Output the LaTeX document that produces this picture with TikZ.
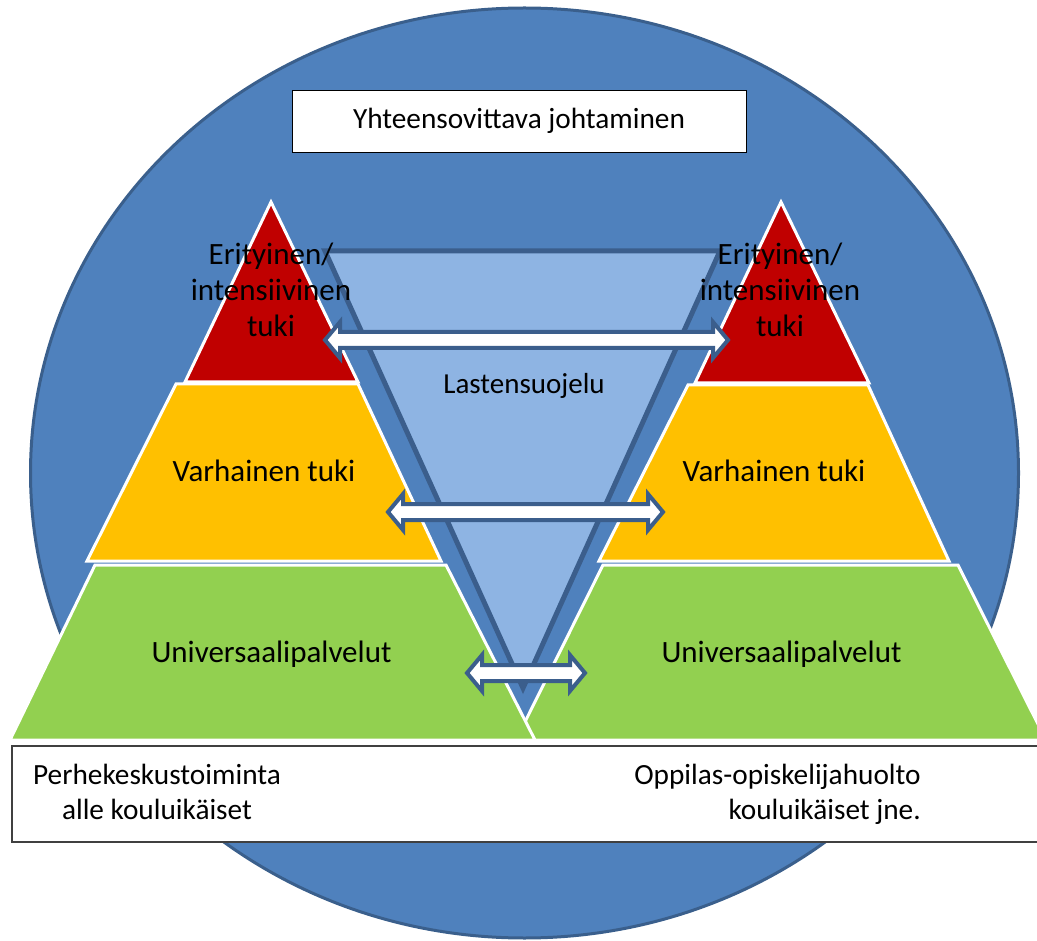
\documentclass[tikz,border=0pt]{standalone}
\usepackage{fontspec}
\setmainfont{Carlito}
\usetikzlibrary{calc}
\definecolor{circfill}{HTML}{4F81BD}
\definecolor{circline}{HTML}{3A5F8C}
\definecolor{redl}{HTML}{C00000}
\definecolor{yell}{HTML}{FFC000}
\definecolor{grn}{HTML}{92D050}
\definecolor{invfill}{HTML}{8EB4E3}
\definecolor{darkb}{HTML}{3B5E8C}
\begin{document}
\begin{tikzpicture}[x=1pt,y=-1pt,
  layer/.style={draw=white,line width=3pt,line join=miter},
  lbl/.style={font=\fontsize{31}{36}\selectfont,align=center,inner sep=0pt,anchor=base},
  btxt/.style={font=\fontsize{29.3}{35}\selectfont,inner sep=0pt,anchor=base},
  barrow/.style={draw=darkb,fill=white,line width=4pt,line join=miter}]
\useasboundingbox (0,0) rectangle (1037,941);
\clip (0,0) rectangle (1037,941);
% background circle
\draw[draw=circline,fill=circfill,line width=3pt] (524.5,473) ellipse [x radius=494pt, y radius=465pt];
% inverted triangle
\draw[fill=invfill,draw=darkb,line width=5pt,line join=miter] (325,251) -- (720,251) -- (523,688) -- cycle;
% right pyramid
\fill[redl,layer] (781,202) -- (869,383) -- (695,383) -- cycle;
\fill[yell,layer] (688,385) -- (868,385) -- (949,561) -- (599,561) -- cycle;
\fill[grn,layer] (603,565) -- (958,565) -- (1046,740) -- (516,740) -- cycle;
% left pyramid
\fill[redl,layer] (271,202) -- (358,382) -- (185,382) -- cycle;
\fill[yell,layer] (176,384) -- (358,384) -- (441,561) -- (87,561) -- cycle;
\fill[grn,layer] (95,565) -- (446,565) -- (535,740) -- (10,740) -- cycle;
% labels
\node[lbl] (lred) at (271,337) {Erityinen/\\intensiivinen\\tuki};
\node[lbl] (rred) at (780,337) {Erityinen/\\intensiivinen\\tuki};
\node[lbl] (lyel) at (264,481) {Varhainen tuki};
\node[lbl] (ryel) at (774,481) {Varhainen tuki};
\node[lbl] (lgrn) at (271.5,662) {Universaalipalvelut};
\node[lbl] (rgrn) at (781.5,662) {Universaalipalvelut};
\node[btxt,font=\fontsize{29}{34}\selectfont] (ls) at (524,394) {Lastensuojelu};
% arrows
\coordinate (a1l) at (325,340); \coordinate (a1r) at (728,340);
\coordinate (a2l) at (388,512); \coordinate (a2r) at (663,512);
\coordinate (a3l) at (467,673); \coordinate (a3r) at (585,673);
\foreach \l/\r in {a1l/a1r,a2l/a2r,a3l/a3r}{
\draw[barrow] let \p1=(\l), \p2=(\r) in
 (\p1) -- ++(15pt,18pt) -- ++(0pt,-10pt) -- (\x2-15pt,\y1+8pt) -- ++(0pt,10pt) -- (\p2)
 -- ++(-15pt,-18pt) -- ++(0pt,10pt) -- (\x1+15pt,\y1-8pt) -- ++(0pt,-10pt) -- cycle;
}
% top box
\node[draw=black,line width=1pt,fill=white,minimum width=454pt,minimum height=62pt,inner sep=0pt,
  font=\fontsize{29.3}{35}\selectfont,text height=19pt,text depth=5pt] (lead) at (519,122) {Yhteensovittava johtaminen};
% bottom box
\fill[white] (0,739) rectangle (1037,746);
\draw[draw=black!75,line width=1.2pt,fill=white] (12,746) rectangle (1045,842);
\node[btxt,align=center] (ltxt) at (157,819) {Perhekeskustoiminta\\alle kouluikäiset};
\node[btxt,align=right,anchor=base east] (rtxt) at (921,819) {Oppilas-opiskelijahuolto\\kouluikäiset jne.};
\end{tikzpicture}
\end{document}
